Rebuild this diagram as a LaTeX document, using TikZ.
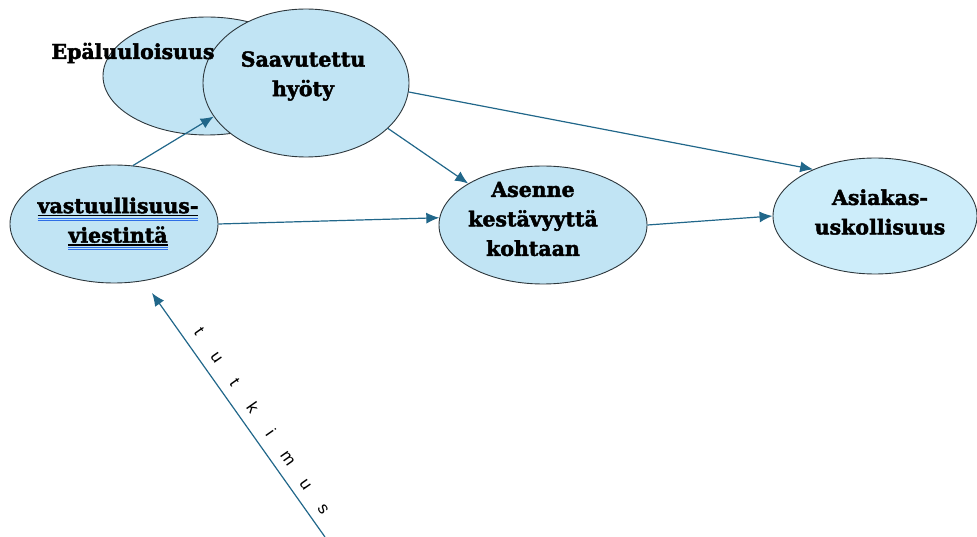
\documentclass[tikz,border=0pt]{standalone}
\usepackage{fontspec}
\setmainfont{DejaVu Serif}[BoldFeatures={FakeBold=2.2}]
\newfontfamily\lettersans{Liberation Sans}
\usetikzlibrary{shapes.geometric,arrows.meta}
\definecolor{bubble}{RGB}{193,228,244}
\definecolor{bubblelight}{RGB}{205,237,250}
\definecolor{edgegray}{RGB}{45,55,60}
\definecolor{arrowblue}{RGB}{33,103,138}
\definecolor{spellblue}{RGB}{45,110,230}
% underlined word with the blue double mark under it
\newcommand\spellmark[1]{\setbox0\hbox{#1}\vtop{\offinterlineskip\copy0\kern1.5pt\hbox{\vrule width\wd0 height1.3pt}\kern1.6pt\hbox{\color{spellblue}\vrule width\wd0 height1pt}\kern1.2pt\hbox{\color{spellblue}\vrule width\wd0 height1pt}}}
\newcommand\spaced[1]{\makebox[31pt]{#1}}

\begin{document}
\begin{tikzpicture}[x=1pt,y=-1pt]
 	\tikzstyle{main}=[ellipse, draw=edgegray, line width=0.9pt, fill=bubble, inner sep=0pt, minimum width=208pt, minimum height=118pt]
 	\tikzstyle{connect}=[-{Latex[length=13pt,width=11pt]}, line width=1.2pt, draw=arrowblue]
 	\tikzstyle{word}=[font=\bfseries\fontsize{20.5}{29.5}\selectfont, align=center, text=black]
 	\useasboundingbox (0,0) rectangle (977,537);
 	\node[main] (epa) at (207,76) { };
 	\node[main, minimum height=148pt, minimum width=206pt] (saav) at (306,83) [label={[word, xshift=-3pt, yshift=7pt]center:Saavutettu\\hyöty}] { };
 	\node[word] (epatext) at (133,53) {Epäluuloisuus};
 	\node[main] (vast) at (114,224) [label={[word, xshift=4pt, yshift=0pt]center:\spellmark{vastuullisuus-}\\\spellmark{viestintä}}] { };
 	\node[main] (asenne) at (543,225) [label={[word, xshift=-10pt, yshift=6pt]center:Asenne\\kestävyyttä\\kohtaan}] { };
 	\node[main, fill=bubblelight, minimum width=204pt, minimum height=116pt] (asiakas) at (875,216) [label={[word, xshift=5pt, yshift=4pt]center:Asiakas-\\uskollisuus}] { };
 	\coordinate (base) at (325,537);
 	\coordinate (tip) at (152,293);
 	\path (vast.72) edge [connect] (saav.-160)
 	(vast.east) edge [connect] (asenne.176)
 	(saav.-29) edge [connect] (asenne.151)
 	(saav.-5) edge [connect] (asiakas.143)
 	(asenne.east) edge [connect] (asiakas.west)
 		(base) edge [connect] (tip);
 	\node[rotate=-55, font=\lettersans\fontsize{17}{17}\selectfont] (tutkimus) at (262,420) {\spaced{t}\spaced{u}\spaced{t}\spaced{k}\spaced{i}\spaced{m}\spaced{u}\spaced{s}};
\end{tikzpicture}
\end{document}
